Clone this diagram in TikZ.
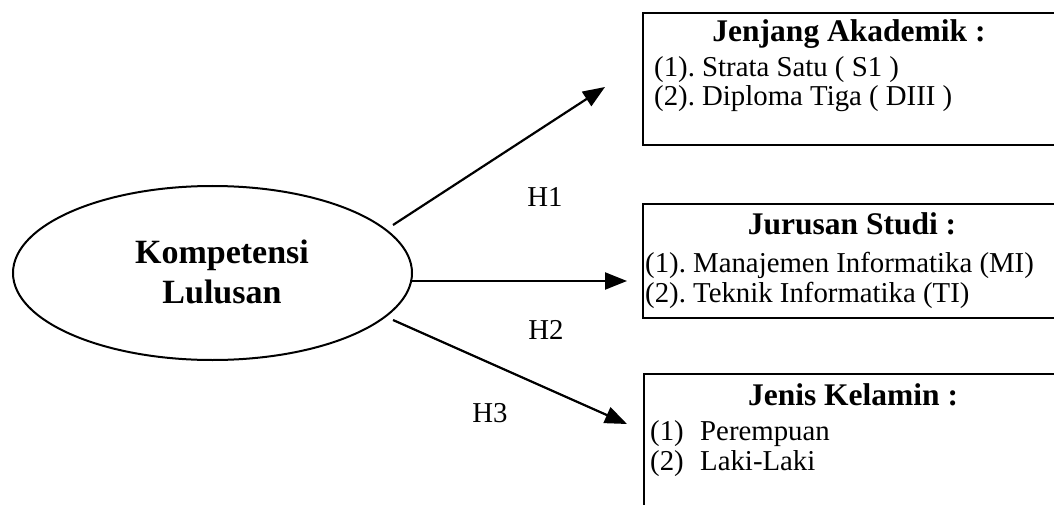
\documentclass[tikz,border=0pt]{standalone}
\usepackage{fontspec}
\setmainfont{Liberation Serif}
\usetikzlibrary{shapes.geometric,arrows.meta}
\frenchspacing
\tikzset{
  ell/.style={draw, line width=2pt, ellipse, minimum width=399pt, minimum height=174pt, inner sep=0pt},
  elltext/.style={align=center, font=\fontsize{34}{40}\selectfont\bfseries, inner sep=0pt},
  boxframe/.style={draw, line width=2pt, anchor=north west, inner sep=0pt},
  head/.style={anchor=base, font=\fontsize{31.5}{36}\selectfont\bfseries, inner sep=0pt},
  item/.style={anchor=base west, font=\fontsize{28.8}{33}\selectfont, inner sep=0pt},
  hlabel/.style={font=\fontsize{28.8}{33}\selectfont, inner sep=0pt},
  conn/.style={line width=2.2pt, -{Triangle[length=22pt, width=17pt]}},
}
\begin{document}
\frenchspacing
\begin{tikzpicture}[x=1pt, y=-1pt]
\useasboundingbox (0,0) rectangle (1054,505);
\clip (0,0) rectangle (1054,505);
% ellipse
\node[ell] (ell) at (212.5,273) {};
\node[elltext] (elltxt) at (222,272) {Kompetensi\\Lulusan};
% boxes
\node[boxframe, minimum width=430pt, minimum height=132pt] (b1) at (642,12) {};
\node[boxframe, minimum width=430pt, minimum height=114pt] (b2) at (642,203) {};
\node[boxframe, minimum width=430pt, minimum height=150pt] (b3) at (643,373) {};
% box 1 texts
\node[head] (h1) at (849,42) {Jenjang Akademik :};
\node[item] (i11) at (654,77) {(1). Strata Satu ( S1 )};
\node[item] (i12) at (654,106) {(2). Diploma Tiga ( DIII )};
% box 2 texts
\node[head] (h2) at (852,234) {Jurusan Studi :};
\node[item] (i21) at (645,272) {(1). Manajemen Informatika (MI)};
\node[item] (i22) at (645,302) {(2). Teknik Informatika (TI)};
% box 3 texts
\node[head] (h3) at (853,405) {Jenis Kelamin :};
\node[item] (n31) at (650,440) {(1)};
\node[item] (i31) at (700,440) {Perempuan};
\node[item] (n32) at (650,470) {(2)};
\node[item] (i32) at (700,470) {Laki-Laki};
% connectors
\coordinate (s1) at (393,225);
\coordinate (t1) at (605,87);
\coordinate (s2) at (412,281);
\coordinate (t2) at (627,281);
\coordinate (s3) at (393,320);
\coordinate (t3) at (627,424);
\draw[conn] (s1) -- (t1);
\draw[conn] (s2) -- (t2);
\draw[conn] (s3) -- (t3);
% labels
\node[hlabel] (H1) at (545,197) {H1};
\node[hlabel] (H2) at (546,330) {H2};
\node[hlabel] (H3) at (490,413) {H3};
\end{tikzpicture}
\end{document}
